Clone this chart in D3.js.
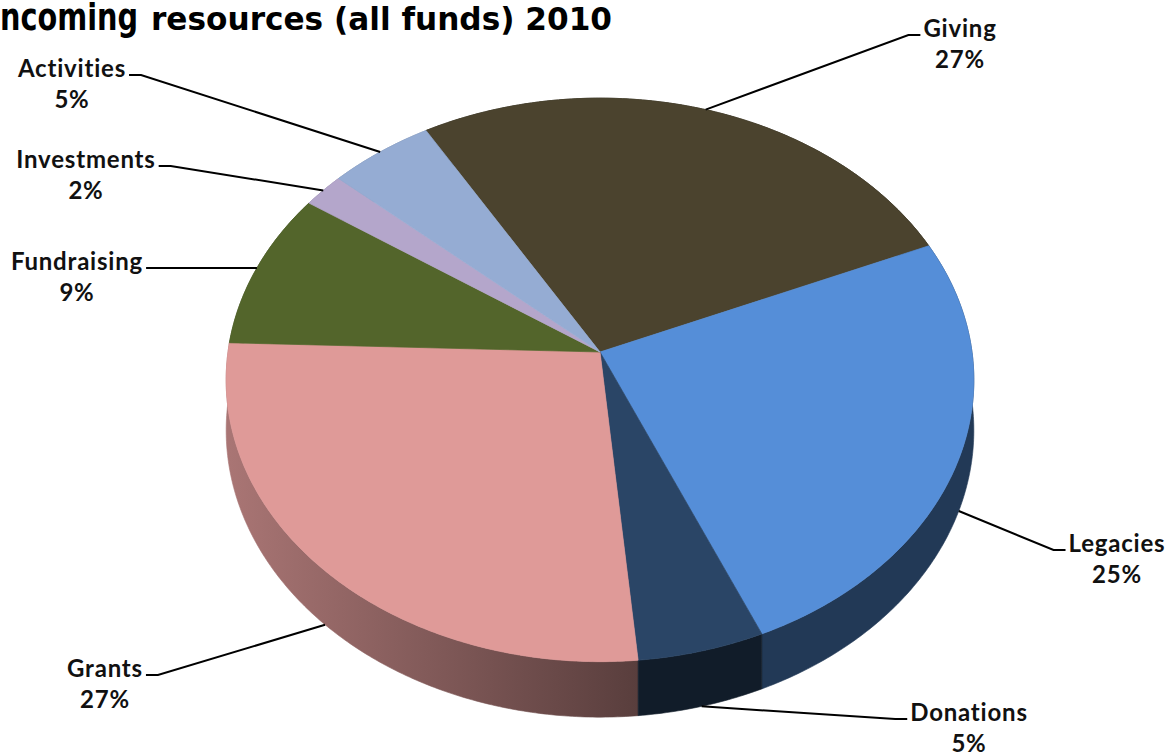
<!DOCTYPE html>
<html>
<head>
<meta charset="utf-8">
<script src="https://cdn.jsdelivr.net/npm/d3@7"></script>
<style>
  body { margin: 0; background: #fff; }
  svg { display: block; }
  .lbl { font-family: Lato, "Open Sans", sans-serif; font-weight: 700; font-size: 24px; letter-spacing: 0.8px; fill: #111; }
  .title { font-family: "Liberation Sans Narrow", "DejaVu Sans Condensed", "Liberation Sans", sans-serif; font-weight: 700; fill: #000; }
</style>
</head>
<body>
<svg id="chart"></svg>
<script>
// data, clockwise from the Giving slice
const categories = ["Giving", "Legacies", "Donations", "Grants", "Fundraising", "Investments", "Activities"];
const values = [27, 25, 5, 27, 9, 2, 5];
const topColors = ["#4b432e", "#558ed8", "#2a4566", "#df9a98", "#53652b", "#b4a6cb", "#95acd3"];

// where the label text sits (centre x, baseline of the name)
const labelPos = [
    { x: 960, y: 37, side: "right" },
    { x: 1117, y: 552, side: "right" },
    { x: 969, y: 721, side: "right" },
    { x: 105, y: 677, side: "left" },
    { x: 77, y: 270, side: "left" },
    { x: 86, y: 168, side: "left" },
    { x: 72, y: 77, side: "left" }
];

const W = 1171, H = 754;
const svg = d3.select("#chart").attr("width", W).attr("height", H);

// perspective view of the disc
const view = { cx: 600, cy: 352, fx: 372, fy: 279, k: 0.099, depth: 50 };
function proj(a, z) {
    const X = Math.sin(a), Y = Math.cos(a), d = 1 + view.k * Y;
    return [view.cx + view.fx * X / d, view.cy + (-view.fy * Y + view.depth * z) / d];
}
function arcPts(a0, a1, z) {
    const n = Math.max(2, Math.ceil(Math.abs(a1 - a0) / 0.01));
    return d3.range(n + 1).map(i => proj(a0 + (a1 - a0) * i / n, z));
}

const rad = d => d * Math.PI / 180;
const pie = d3.pie().sort(null).startAngle(rad(-30.5)).endAngle(rad(329.5));
const arcs = pie(values).map((p, i) => ({ ...p, i, mid: (p.startAngle + p.endAngle) / 2 }));
const line = d3.line();

// side shade: dark at the front, lighter towards the left
const shade = d3.scaleLinear().domain([rad(176), rad(270)]).range([0.4, 0.76]).clamp(true);
const defs = svg.append("defs");

// walls first, far ones first
const walls = svg.append("g");
arcs.slice().sort((a, b) => Math.cos(b.mid) - Math.cos(a.mid)).forEach(p => {
    const c = d3.rgb(topColors[p.i]);
    const p0 = proj(p.startAngle, 0), p1 = proj(p.endAngle, 0);
    const gid = "wall" + p.i;
    const g = defs.append("linearGradient").attr("id", gid)
        .attr("gradientUnits", "userSpaceOnUse")
        .attr("x1", p0[0]).attr("y1", 0).attr("x2", p1[0]).attr("y2", 0);
    [[0, p.startAngle], [1, p.endAngle]].forEach(([o, a]) => {
        const f = shade(a);
        g.append("stop").attr("offset", o)
            .attr("stop-color", d3.rgb(c.r * f, c.g * f, c.b * f));
    });
    const pts = arcPts(p.startAngle, p.endAngle, 0).concat(arcPts(p.endAngle, p.startAngle, 1));
    walls.append("path")
        .attr("d", line(pts) + "Z")
        .attr("fill", `url(#${gid})`)
        .attr("stroke", `url(#${gid})`)
        .attr("stroke-width", 0.6);
});

// top faces
const tops = svg.append("g");
arcs.forEach(p => {
    const pts = [[view.cx, view.cy]].concat(arcPts(p.startAngle, p.endAngle, 0));
    tops.append("path")
        .attr("d", line(pts) + "Z")
        .attr("fill", topColors[p.i])
        .attr("stroke", topColors[p.i])
        .attr("stroke-width", 0.7);
});

// labels and leader lines
const lab = svg.append("g");
arcs.forEach(p => {
    const pos = labelPos[p.i];
    const name = lab.append("text").attr("class", "lbl")
        .attr("x", pos.x).attr("y", pos.y)
        .attr("text-anchor", "middle")
        .text(categories[p.i]);
    lab.append("text").attr("class", "lbl")
        .attr("x", pos.x).attr("y", pos.y + 31)
        .attr("text-anchor", "middle")
        .text(values[p.i] + "%");

    const w = name.node().getComputedTextLength();
    const front = Math.cos(p.mid) < -view.k;
    const end = proj(p.mid, front ? 1 : 0);
    const sx = pos.side === "left" ? pos.x + w / 2 + 3 : pos.x - w / 2 - 3;
    const ex = pos.side === "left" ? sx + 12 : sx - 12;
    const ly = pos.y - 2;
    lab.append("path")
        .attr("d", line([[sx, ly], [ex, ly], end]))
        .attr("fill", "none")
        .attr("stroke", "#000")
        .attr("stroke-width", 2);
});

// title, cut at the left edge like the original
svg.append("text").attr("class", "title")
    .attr("x", -1).attr("y", 30)
    .attr("text-anchor", "end")
    .attr("font-size", 38)
    .text("I");
svg.append("text").attr("class", "title")
    .attr("x", 0).attr("y", 30)
    .attr("font-size", 38)
    .attr("textLength", 138)
    .attr("lengthAdjust", "spacingAndGlyphs")
    .text("ncoming");
svg.append("text").attr("class", "title")
    .attr("x", 151).attr("y", 30)
    .attr("font-size", 32)
    .attr("textLength", 461)
    .attr("lengthAdjust", "spacingAndGlyphs")
    .text("resources (all funds) 2010");
</script>
</body>
</html>
